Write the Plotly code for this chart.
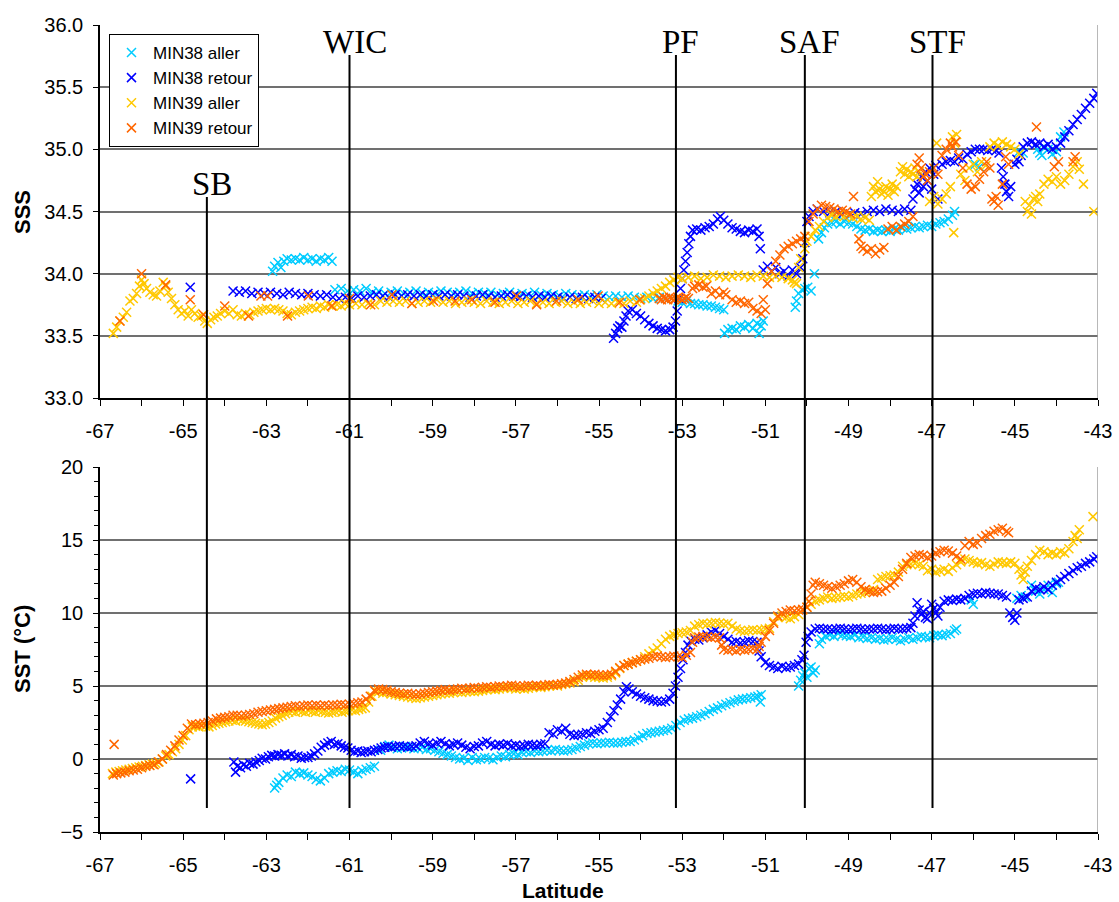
import plotly.graph_objects as go

# ---------------- DATA ----------------
series_names = ["MIN38 aller", "MIN38 retour", "MIN39 aller", "MIN39 retour"]
series_colors = ["#00CCFF", "#0000FF", "#FFC800", "#FF6600"]

fronts = ["SB", "WIC", "PF", "SAF", "STF"]
front_lat = [-64.43, -61.0, -53.15, -50.05, -46.98]

xticks = [-67, -65, -63, -61, -59, -57, -55, -53, -51, -49, -47, -45, -43]

# MIN38 aller - SSS
m38a_sss_lat = [-62.85, -62.8, -62.72, -62.65, -62.58, -62.5, -62.4, -62.3, -62.2, -62.1, -62.0, -61.9, -61.8, -61.7, -61.6, -61.5, -61.42,
                -61.35, -61.2, -61.05, -60.9, -60.75, -60.6, -60.45, -60.3, -60.15, -60.0, -59.85, -59.7, -59.55, -59.4, -59.25, -59.1, -58.95, -58.8,
                -58.65, -58.5, -58.35, -58.2, -58.05, -57.9, -57.75, -57.6, -57.45, -57.3, -57.15, -57.0, -56.85, -56.7, -56.55, -56.4, -56.25, -56.1,
                -55.95, -55.8, -55.65, -55.5, -55.35, -55.2, -55.05, -54.9, -54.75, -54.6, -54.45, -54.3, -54.15, -54.0, -53.85, -53.7, -53.55, -53.4, -53.25,
                -53.1, -53.0, -52.9, -52.8, -52.7, -52.6, -52.5, -52.4, -52.3, -52.2, -52.1, -52.0,
                -51.98, -51.9, -51.8, -51.7, -51.6, -51.5, -51.4, -51.3, -51.2, -51.15, -51.1, -51.05,
                -50.28, -50.25, -50.2, -50.12, -50.05, -49.98, -49.9, -49.82,
                -49.72, -49.65, -49.58, -49.5, -49.4, -49.3, -49.2, -49.1, -49.0, -48.9, -48.8, -48.7, -48.6, -48.5, -48.4, -48.3, -48.2, -48.1, -48.0,
                -47.9, -47.8, -47.7, -47.6, -47.5, -47.4, -47.3, -47.2, -47.1, -47.0, -46.9, -46.8, -46.7, -46.6, -46.5, -46.45,
                -45.95, -45.85, -44.9, -44.8, -44.45, -44.4, -44.35, -44.3, -44.2, -44.1, -44.0, -43.9, -43.82]
m38a_sss = [34.02, 34.06, 34.09, 34.05, 34.10, 34.12, 34.11, 34.12, 34.11, 34.13, 34.11, 34.12, 34.10, 34.12, 34.11, 34.13, 34.10,
            33.87, 33.88, 33.86, 33.87, 33.86, 33.88, 33.85, 33.86, 33.84, 33.85, 33.86, 33.84, 33.85, 33.86, 33.84, 33.85, 33.84, 33.86,
            33.85, 33.84, 33.85, 33.86, 33.84, 33.85, 33.84, 33.85, 33.83, 33.84, 33.85, 33.83, 33.84, 33.83, 33.85, 33.83, 33.84, 33.83,
            33.82, 33.84, 33.83, 33.82, 33.83, 33.82, 33.83, 33.82, 33.81, 33.82, 33.81, 33.82, 33.81, 33.80, 33.81, 33.80, 33.81, 33.80, 33.80,
            33.78, 33.77, 33.78, 33.76, 33.76, 33.75, 33.75, 33.74, 33.74, 33.73, 33.72, 33.71,
            33.52, 33.55, 33.56, 33.55, 33.58, 33.57, 33.59, 33.56, 33.60, 33.52, 33.58, 33.62,
            33.73, 33.78, 33.84, 33.87, 33.88, 33.89, 33.86, 34.00,
            34.28, 34.33, 34.37, 34.40, 34.41, 34.42, 34.40, 34.42, 34.41, 34.40, 34.38, 34.36, 34.35, 34.36, 34.34, 34.35, 34.34, 34.35, 34.34,
            34.36, 34.35, 34.37, 34.36, 34.37, 34.38, 34.37, 34.38, 34.39, 34.38, 34.40, 34.41, 34.42, 34.44, 34.47, 34.50,
            34.88, 34.86, 34.98, 34.97, 35.00, 34.97, 34.95, 35.02, 35.00, 34.96, 34.98, 35.10, 35.14]

# MIN38 retour - SSS
m38r_sss_lat = [-64.83,
                -63.8, -63.65, -63.5, -63.35, -63.2, -63.05, -62.9, -62.75, -62.6, -62.45, -62.3, -62.15, -62.0, -61.85, -61.7, -61.55, -61.4,
                -61.25, -61.1, -60.95, -60.8, -60.65, -60.5, -60.35, -60.2, -60.05, -59.9, -59.75, -59.6, -59.45, -59.3, -59.15, -59.0, -58.85,
                -58.7, -58.55, -58.4, -58.25, -58.1, -57.95, -57.8, -57.65, -57.5, -57.35, -57.2, -57.05, -56.9, -56.75, -56.6, -56.45, -56.3,
                -56.15, -56.0, -55.85, -55.7, -55.55, -55.4, -55.25, -55.1, -54.95,
                -54.65, -54.6, -54.55, -54.5, -54.45, -54.4, -54.35, -54.3, -54.2, -54.1, -54.0, -53.9, -53.8, -53.7, -53.6, -53.5, -53.4, -53.3,
                -53.22, -53.16, -53.12, -53.08, -53.04, -53.0, -52.96, -52.92, -52.88, -52.84, -52.8, -52.75, -52.65, -52.55, -52.45, -52.35,
                -52.25, -52.15, -52.08, -52.0, -51.9, -51.8, -51.7, -51.6, -51.5, -51.4, -51.3, -51.2, -51.15, -51.12, -51.05, -50.95, -50.85,
                -50.75, -50.65, -50.55, -50.45, -50.35, -50.25, -50.15, -50.1, -50.05, -50.0, -49.95, -49.85, -49.75,
                -49.6, -49.45, -49.3, -49.15, -49.0, -48.85, -48.7, -48.55, -48.4, -48.25, -48.1, -47.95, -47.8, -47.65, -47.5,
                -47.45, -47.4, -47.35, -47.3, -47.25, -47.2, -47.15, -47.1, -47.05, -47.0, -46.95, -46.9, -46.85,
                -46.75, -46.65, -46.55, -46.45, -46.35, -46.25, -46.15, -46.05, -45.95, -45.85, -45.75, -45.65, -45.55, -45.45, -45.38,
                -45.32, -45.28, -45.24, -45.2, -45.15, -45.1, -45.0, -44.95, -44.9, -44.85, -44.8, -44.7, -44.6, -44.5, -44.4, -44.3,
                -44.2, -44.1, -44.0, -43.9, -43.8, -43.7, -43.6, -43.5, -43.4, -43.3, -43.2, -43.1, -43.03]
m38r_sss = [33.89,
            33.86, 33.85, 33.86, 33.84, 33.85, 33.84, 33.85, 33.84, 33.83, 33.85, 33.84, 33.83, 33.84, 33.83, 33.82, 33.83, 33.81,
            33.80, 33.81, 33.80, 33.82, 33.81, 33.82, 33.83, 33.82, 33.81, 33.83, 33.82, 33.83, 33.82, 33.83, 33.82, 33.83, 33.82,
            33.83, 33.82, 33.83, 33.82, 33.81, 33.82, 33.83, 33.82, 33.81, 33.82, 33.83, 33.82, 33.81, 33.82, 33.81, 33.82, 33.81,
            33.82, 33.81, 33.80, 33.81, 33.80, 33.81, 33.80, 33.81, 33.80,
            33.48, 33.52, 33.56, 33.58, 33.57, 33.62, 33.66, 33.70, 33.71, 33.68, 33.66, 33.63, 33.60, 33.58, 33.56, 33.55, 33.54, 33.55,
            33.57, 33.62, 33.70, 33.80, 33.88, 33.96, 34.03, 34.10, 34.17, 34.24, 34.30, 34.35, 34.36, 34.35, 34.37, 34.38,
            34.40, 34.44, 34.46, 34.43, 34.40, 34.37, 34.36, 34.34, 34.33, 34.35, 34.34, 34.36, 34.30, 34.20, 34.03, 34.06, 34.02,
            34.05, 34.00, 34.02, 33.98, 34.03, 34.00, 34.05, 34.12, 34.25, 34.42, 34.46, 34.50, 34.52,
            34.50, 34.49, 34.50, 34.48, 34.47, 34.49, 34.48, 34.50, 34.51, 34.50, 34.52, 34.51, 34.50, 34.52, 34.51,
            34.60, 34.68, 34.72, 34.65, 34.78, 34.70, 34.82, 34.75, 34.85, 34.68, 34.80, 34.87, 34.60,
            34.88, 34.90, 34.91, 34.90, 34.93, 34.92, 34.96, 34.98, 35.00, 35.00, 35.00, 34.99, 35.00, 34.99, 34.97,
            34.85, 34.78, 34.72, 34.66, 34.62, 34.70, 34.88, 34.92, 34.90, 34.95, 35.02, 35.05, 35.06, 35.04, 35.05, 35.02,
            35.04, 35.00, 35.02, 35.05, 35.10, 35.15, 35.20, 35.24, 35.28, 35.33, 35.37, 35.41, 35.45]

# MIN39 aller - SSS
m39a_sss_lat = [-66.68, -66.6, -66.52, -66.44, -66.36, -66.28, -66.2, -66.12, -66.05, -66.0, -65.94, -65.88, -65.8, -65.72, -65.64, -65.56,
                -65.48, -65.42, -65.36, -65.28, -65.2, -65.12, -65.04, -64.96, -64.88, -64.8, -64.72, -64.64, -64.56, -64.48, -64.42, -64.34,
                -64.26, -64.18, -64.1, -64.0, -63.9, -63.8, -63.7, -63.6, -63.5, -63.4, -63.3, -63.2, -63.1, -63.0, -62.9, -62.8, -62.7, -62.6,
                -62.5, -62.4, -62.3, -62.2, -62.1, -62.0, -61.9, -61.8, -61.7, -61.6, -61.5, -61.4, -61.3, -61.2, -61.1, -61.0, -60.85, -60.7,
                -60.55, -60.4, -60.25, -60.1, -59.95, -59.8, -59.65, -59.5, -59.35, -59.2, -59.05, -58.9, -58.75, -58.6, -58.45, -58.3, -58.15,
                -58.0, -57.85, -57.7, -57.55, -57.4, -57.25, -57.1, -56.95, -56.8, -56.65, -56.5, -56.35, -56.2, -56.05, -55.9, -55.75, -55.6,
                -55.45, -55.3, -55.15, -55.0, -54.85, -54.7, -54.55, -54.4, -54.25, -54.1,
                -54.0, -53.9, -53.8, -53.7, -53.6, -53.5, -53.4, -53.3, -53.2, -53.1,
                -53.0, -52.85, -52.7, -52.55, -52.4, -52.25, -52.1, -51.95, -51.8, -51.65, -51.5, -51.35, -51.2, -51.05, -50.9, -50.75, -50.6, -50.45,
                -50.35, -50.3, -50.25, -50.2, -50.15, -50.05, -50.0, -49.9, -49.8, -49.7, -49.6, -49.5, -49.4, -49.3, -49.2, -49.1, -49.0, -48.9,
                -48.8, -48.7, -48.6, -48.5,
                -48.45, -48.4, -48.35, -48.3, -48.25, -48.2, -48.15, -48.1, -48.05, -48.0, -47.95, -47.9, -47.85,
                -47.75, -47.7, -47.65, -47.6, -47.55, -47.5, -47.45, -47.4, -47.35, -47.3,
                -47.05, -46.95, -46.85, -46.75, -46.65, -46.55, -46.88, -46.5, -46.45, -46.4, -46.47,
                -46.3, -46.2, -46.1, -46.0, -45.9, -45.8, -45.7, -45.6, -45.5, -45.4, -45.3, -45.2, -45.1, -45.0, -44.9,
                -44.75, -44.7, -44.65, -44.6, -44.55, -44.5, -44.45, -44.4, -44.3, -44.2, -44.1, -44.0, -43.9, -43.8, -43.7, -43.6,
                -43.5, -43.45, -43.35, -43.1]
m39a_sss = [33.52, 33.57, 33.62, 33.65, 33.69, 33.78, 33.80, 33.84, 33.90, 33.95, 33.92, 33.88, 33.85, 33.83, 33.82, 33.86,
            33.93, 33.90, 33.85, 33.80, 33.75, 33.71, 33.68, 33.70, 33.66, 33.71, 33.68, 33.65, 33.66, 33.62, 33.60, 33.63,
            33.65, 33.66, 33.68, 33.70, 33.68, 33.71, 33.67, 33.66, 33.68, 33.67, 33.69, 33.70, 33.71, 33.72, 33.71, 33.72, 33.71, 33.70,
            33.68, 33.67, 33.69, 33.70, 33.71, 33.72, 33.73, 33.72, 33.74, 33.73, 33.75, 33.74, 33.75, 33.74, 33.76, 33.75, 33.76, 33.75,
            33.76, 33.75, 33.78, 33.77, 33.78, 33.77, 33.78, 33.76, 33.77, 33.78, 33.77, 33.79, 33.77, 33.78, 33.76, 33.77, 33.78,
            33.77, 33.76, 33.78, 33.77, 33.76, 33.77, 33.78, 33.76, 33.77, 33.78, 33.76, 33.77, 33.76, 33.77, 33.78, 33.76, 33.77,
            33.76, 33.77, 33.78, 33.76, 33.77, 33.76, 33.77, 33.76, 33.78, 33.77,
            33.79, 33.80, 33.82, 33.84, 33.86, 33.88, 33.90, 33.93, 33.95, 33.97,
            33.96, 33.97, 33.98, 33.96, 33.97, 33.99, 33.98, 33.97, 33.98, 33.99, 33.98, 33.97, 33.99, 33.98, 33.97, 33.98, 33.97, 33.96,
            33.95, 33.93, 33.92, 34.05, 34.12, 34.20, 34.26, 34.30, 34.35, 34.38, 34.42, 34.45, 34.47, 34.46, 34.48, 34.46, 34.47, 34.45,
            34.46, 34.44, 34.45, 34.43,
            34.62, 34.70, 34.66, 34.74, 34.68, 34.64, 34.66, 34.70, 34.63, 34.68, 34.72, 34.66, 34.70,
            34.82, 34.86, 34.80, 34.84, 34.78, 34.82, 34.80, 34.85, 34.78, 34.82,
            34.58, 34.62, 34.56, 34.60, 34.64, 34.70, 35.05, 35.10, 35.05, 35.12, 34.33,
            34.80, 34.75, 34.85, 34.88, 34.82, 34.90, 34.87, 35.02, 35.05, 35.03, 35.06, 35.04, 35.02, 35.00, 34.96,
            34.58, 34.50, 34.55, 34.48, 34.60, 34.62, 34.58, 34.64, 34.72, 34.76, 34.74, 34.78, 34.72, 34.75, 34.80, 34.86,
            34.90, 34.84, 34.72, 34.50]

# MIN39 retour - SSS
m39r_sss_lat = [-66.52, -66.0, -65.42, -64.83, -64.51, -64.0, -63.43, -63.13, -62.97, -62.49, -61.99, -61.43, -61.0, -60.49, -59.98,
                -59.5, -58.98, -58.46, -58.06, -57.5, -56.98, -56.5, -56.02, -55.5, -55.02, -54.5, -54.02,
                -53.55, -53.5, -53.45, -53.4, -53.35, -53.3, -53.25, -53.2, -53.15, -53.1, -53.05, -53.0, -52.95, -52.9, -52.85,
                -52.75, -52.7, -52.6, -52.5, -52.42, -52.3, -52.2, -52.1, -52.0, -51.95, -51.8, -51.7, -51.6, -51.5, -51.4, -51.3,
                -51.2, -51.1, -51.0, -51.05, -50.95, -50.85, -50.75, -50.65, -50.55, -50.45, -50.35, -50.25, -50.15, -50.05,
                -49.95, -49.85, -49.75, -49.65, -49.55, -49.45, -49.35, -49.25, -49.15, -49.05, -48.95, -48.88,
                -48.75, -48.7, -48.65, -48.55, -48.45, -48.35, -48.25, -48.15, -48.05, -47.95, -47.85, -47.75, -47.65, -47.55, -47.45,
                -47.35, -47.3, -47.25, -47.2, -47.15, -47.1, -47.05, -46.95, -46.85, -46.75, -46.65, -46.55, -46.5, -46.42,
                -46.35, -46.25, -46.15, -46.05, -45.95, -45.85, -45.75, -45.68, -45.6, -45.55, -45.5, -45.45, -45.4, -45.3,
                -45.22, -45.15, -44.48, -44.05, -43.95, -43.6, -43.55]
m39r_sss = [33.62, 34.00, 33.91, 33.79, 33.67, 33.74, 33.66, 33.82, 33.82, 33.66, 33.82, 33.74, 33.80, 33.75, 33.83,
            33.76, 33.78, 33.78, 33.79, 33.77, 33.82, 33.75, 33.78, 33.79, 33.82, 33.77, 33.79,
            33.80, 33.79, 33.81, 33.80, 33.79, 33.81, 33.80, 33.79, 33.80, 33.81, 33.80, 33.79, 33.80, 33.81, 33.80,
            33.88, 33.90, 33.91, 33.89, 33.90, 33.84, 33.86, 33.83, 33.85, 33.83, 33.79, 33.77, 33.78, 33.76, 33.77, 33.72,
            33.70, 33.68, 33.71, 33.79, 33.92, 34.02, 34.10, 34.15, 34.20, 34.22, 34.24, 34.26, 34.28, 34.30,
            34.42, 34.48, 34.52, 34.55, 34.54, 34.53, 34.52, 34.50, 34.51, 34.50, 34.48, 34.62,
            34.28, 34.22, 34.20, 34.18, 34.20, 34.16, 34.19, 34.21, 34.36, 34.38, 34.35, 34.38, 34.40, 34.42, 34.46,
            34.88, 34.93, 34.85, 34.78, 34.80, 34.75, 34.82, 34.85, 34.80, 34.95, 35.00, 35.05, 35.02, 35.06,
            34.95, 34.85, 34.72, 34.68, 34.70, 34.76, 34.82, 34.90, 34.85, 34.60, 34.58, 34.62, 34.55, 34.72,
            34.94, 34.88, 35.18, 34.86, 34.90, 34.90, 34.94]

# MIN38 aller - SST
m38a_sst_lat = [-62.8, -62.75, -62.7, -62.6, -62.5, -62.4, -62.3, -62.2, -62.1, -62.0, -61.9, -61.8, -61.7, -61.6, -61.5, -61.4, -61.3,
                -61.2, -61.1, -61.0, -60.9, -60.8, -60.7, -60.6, -60.5, -60.4,
                -60.25, -60.15, -60.05, -59.95, -59.85, -59.75, -59.65, -59.55, -59.45, -59.35, -59.25, -59.15, -59.05, -58.95, -58.85,
                -58.75, -58.65, -58.55, -58.45, -58.35, -58.25, -58.15, -58.05, -57.95, -57.85, -57.75, -57.65, -57.55, -57.45, -57.35,
                -57.25, -57.15, -57.05, -56.95, -56.85, -56.75, -56.65, -56.55, -56.45, -56.35, -56.25, -56.15, -56.05, -55.95, -55.85,
                -55.75, -55.65, -55.55, -55.45, -55.35, -55.25, -55.15, -55.05, -54.95, -54.85, -54.75, -54.65, -54.55, -54.45, -54.35,
                -54.25, -54.15, -54.05, -53.95, -53.85, -53.75, -53.65, -53.55, -53.45, -53.35, -53.25, -53.15, -53.05, -52.95, -52.85,
                -52.75, -52.65, -52.55, -52.45, -52.35, -52.25, -52.15, -52.05, -51.95, -51.85, -51.75, -51.65, -51.55, -51.45, -51.35,
                -51.25, -51.18, -51.12, -51.1,
                -50.2, -50.15, -50.1, -50.05, -50.0, -49.95, -49.9, -49.85, -49.8,
                -49.7, -49.65, -49.55, -49.45, -49.35, -49.25, -49.15, -49.05, -48.95, -48.85, -48.75, -48.65, -48.55, -48.45, -48.35,
                -48.25, -48.15, -48.05, -47.95, -47.85, -47.75, -47.65, -47.55, -47.45, -47.35, -47.25, -47.15, -47.05, -46.95, -46.85,
                -46.75, -46.65, -46.55, -46.45, -46.4,
                -46.05, -46.0, -44.95, -44.85, -44.75, -44.6, -44.5, -44.4, -44.3, -44.2, -44.1, -44.0, -43.95]
m38a_sst = [-1.98, -1.8, -1.6, -1.3, -1.1, -1.2, -0.9, -1.0, -0.95, -1.1, -1.2, -1.4, -1.5, -1.3, -1.0, -0.9, -0.8,
            -0.85, -0.7, -0.75, -0.9, -1.0, -0.8, -0.7, -0.6, -0.5,
            0.6, 0.85, 0.95, 0.8, 0.7, 0.75, 0.85, 0.8, 0.7, 0.75, 0.8, 0.65, 0.7, 0.6, 0.5,
            0.4, 0.3, 0.2, 0.1, 0.0, 0.05, -0.1, 0.1, -0.05, 0.0, 0.1, 0.05, -0.05, 0.1, 0.2,
            0.15, 0.3, 0.35, 0.3, 0.45, 0.5, 0.45, 0.55, 0.5, 0.55, 0.6, 0.55, 0.65, 0.6, 0.55,
            0.6, 0.65, 0.75, 0.85, 0.95, 1.05, 1.1, 1.05, 1.1, 1.1, 1.15, 1.1, 1.1, 1.15, 1.2,
            1.2, 1.3, 1.45, 1.6, 1.75, 1.8, 1.85, 1.9, 1.95, 2.0, 2.1, 2.3, 2.5, 2.65, 2.75,
            2.8, 2.9, 3.0, 3.1, 3.25, 3.4, 3.5, 3.65, 3.75, 3.85, 3.95, 4.05, 4.1, 4.15, 4.2,
            4.25, 4.3, 3.9, 4.4,
            5.0, 5.4, 5.7, 5.9, 5.6, 6.2, 6.3, 5.9, 6.1,
            7.9, 8.2, 8.4, 8.5, 8.4, 8.6, 8.5, 8.45, 8.4, 8.5, 8.3, 8.35, 8.25, 8.3, 8.2,
            8.25, 8.15, 8.2, 8.3, 8.2, 8.1, 8.2, 8.3, 8.2, 8.3, 8.4, 8.35, 8.3, 8.45, 8.5,
            8.45, 8.55, 8.6, 8.8, 8.9,
            10.9, 10.6, 11.0, 11.2, 11.1, 11.9, 11.5, 11.3, 11.6, 11.9, 11.4, 12.0, 12.1]

# MIN38 retour - SST
m38r_sst_lat = [-64.82,
                -63.78, -63.74, -63.7, -63.62, -63.55, -63.48, -63.4, -63.32, -63.25, -63.17, -63.1, -63.02, -62.95, -62.87, -62.8,
                -62.72, -62.64, -62.56, -62.48, -62.4, -62.32, -62.24, -62.16, -62.08, -62.0, -61.92, -61.84, -61.76, -61.68, -61.6,
                -61.52, -61.44, -61.36, -61.28, -61.2, -61.12, -61.04, -60.96, -60.88, -60.8, -60.72, -60.64, -60.56, -60.48, -60.4,
                -60.32, -60.24, -60.16, -60.08, -60.0, -59.9, -59.8, -59.7, -59.6, -59.5, -59.4, -59.3, -59.2, -59.1, -59.0, -58.9,
                -58.8, -58.7, -58.6, -58.5, -58.4, -58.3, -58.2, -58.1, -58.0, -57.9, -57.8, -57.7, -57.6, -57.5, -57.4, -57.3, -57.2,
                -57.1, -57.0, -56.9, -56.8, -56.7, -56.6, -56.5, -56.4, -56.3,
                -56.2, -56.1, -56.0, -55.9, -55.8, -55.7, -55.6, -55.5, -55.4, -55.3, -55.2, -55.1, -55.0, -54.9, -54.8, -54.72, -54.64,
                -54.56, -54.48, -54.4, -54.34, -54.28, -54.2, -54.1, -54.0, -53.9, -53.8, -53.7, -53.6, -53.5, -53.4, -53.3, -53.22,
                -53.16, -53.1, -53.04, -52.98, -52.92, -52.86, -52.8, -52.7, -52.6, -52.5, -52.4, -52.3, -52.2, -52.1, -52.0, -51.9,
                -51.8, -51.7, -51.6, -51.5, -51.4, -51.3, -51.2, -51.15, -51.1, -51.0, -50.9, -50.8, -50.7, -50.6, -50.5, -50.4, -50.3,
                -50.2, -50.12, -50.07, -50.02, -49.97, -49.9, -49.8, -49.7, -49.6, -49.5, -49.4, -49.3, -49.2, -49.1, -49.0, -48.9, -48.8,
                -48.7, -48.6, -48.5, -48.4, -48.3, -48.2, -48.1, -48.0, -47.9, -47.8, -47.7, -47.6, -47.5, -47.45, -47.4, -47.35, -47.3,
                -47.25, -47.2, -47.15, -47.1, -47.05, -47.0, -46.95, -46.9, -46.85, -46.8, -46.7, -46.6, -46.5, -46.4, -46.3, -46.2,
                -46.1, -46.0, -45.9, -45.8, -45.7, -45.6, -45.5, -45.4, -45.3, -45.2, -45.12, -45.05, -45.0, -44.95, -44.9, -44.8,
                -44.7, -44.6, -44.5, -44.4, -44.3, -44.2, -44.1, -44.0, -43.9, -43.8, -43.7, -43.6, -43.5, -43.4, -43.3, -43.2, -43.1,
                -43.03]
m38r_sst = [-1.36,
            -0.2, -0.9, -0.5, -0.6, -0.4, -0.5, -0.3, -0.35, -0.2, -0.1, 0.05, 0.0, 0.15, 0.25, 0.2,
            0.3, 0.25, 0.35, 0.2, 0.3, 0.15, 0.2, 0.05, 0.1, 0.1, 0.2, 0.35, 0.55, 0.8, 0.95,
            1.1, 1.2, 1.0, 1.05, 0.9, 0.8, 0.75, 0.6, 0.5, 0.55, 0.45, 0.5, 0.55, 0.5, 0.6,
            0.65, 0.75, 0.8, 0.85, 0.8, 0.85, 0.9, 0.85, 0.8, 0.85, 0.9, 1.1, 1.2, 1.05, 0.95, 1.1,
            1.2, 1.05, 0.9, 1.0, 1.1, 0.95, 0.8, 0.7, 0.85, 0.9, 1.1, 1.2, 1.0, 0.9, 1.0, 0.95, 1.05,
            0.9, 0.95, 0.85, 0.9, 1.0, 0.95, 0.9, 1.0, 1.05,
            1.8, 1.7, 2.0, 1.9, 2.1, 1.7, 1.6, 1.65, 1.7, 1.8, 1.75, 1.9, 2.0, 2.1, 2.5, 2.9, 3.3,
            3.7, 4.1, 4.6, 4.95, 4.8, 4.6, 4.45, 4.3, 4.2, 4.1, 4.0, 3.95, 3.9, 3.95, 4.1, 4.5,
            5.0, 5.6, 6.2, 6.8, 7.3, 7.8, 8.1, 8.2, 8.15, 8.3, 8.5, 8.7, 8.8, 8.6, 8.4, 8.2,
            8.0, 8.05, 7.95, 8.0, 8.1, 8.05, 8.0, 7.4, 7.0, 6.6, 6.4, 6.3, 6.2, 6.35, 6.25, 6.3, 6.4,
            6.5, 6.8, 7.1, 8.0, 8.4, 8.7, 8.9, 8.95, 8.9, 8.9, 8.85, 8.9, 8.95, 8.9, 8.85, 8.9, 8.95,
            8.9, 8.85, 8.9, 8.9, 8.95, 8.9, 8.85, 8.9, 8.95, 8.9, 8.9, 8.95, 9.0, 9.3, 9.8, 10.7, 10.2,
            9.9, 10.1, 9.7, 9.6, 10.0, 10.6, 10.3, 10.0, 9.8, 10.4, 10.8, 10.9, 10.85, 10.95, 10.9, 11.0,
            11.2, 11.3, 11.35, 11.3, 11.4, 11.35, 11.3, 11.3, 11.2, 11.1, 10.0, 9.7, 9.5, 10.0, 10.9, 11.0,
            11.1, 11.5, 11.7, 11.6, 11.8, 11.6, 11.9, 12.1, 12.3, 12.5, 12.7, 12.9, 13.1, 13.2, 13.4, 13.5, 13.7,
            13.85]

# MIN39 aller - SST
m39a_sst_lat = [-66.7, -66.62, -66.54, -66.46, -66.38, -66.3, -66.22, -66.14, -66.06, -65.98, -65.9, -65.82, -65.74, -65.66, -65.58,
                -65.5, -65.42, -65.34, -65.26, -65.18, -65.1, -65.02, -64.94, -64.86, -64.78, -64.7, -64.62, -64.54, -64.46, -64.38,
                -64.3, -64.22, -64.14, -64.06, -63.98, -63.9, -63.82, -63.74, -63.66, -63.58, -63.5, -63.42, -63.34, -63.26, -63.18,
                -63.1, -63.02, -62.94, -62.86, -62.78, -62.7, -62.62, -62.54, -62.46, -62.38, -62.3, -62.22, -62.14, -62.06, -61.98,
                -61.9, -61.82, -61.74, -61.66, -61.58, -61.5, -61.42, -61.34, -61.26, -61.18, -61.1, -61.02, -60.94, -60.86, -60.78,
                -60.7, -60.62, -60.54, -60.46, -60.38, -60.3, -60.2, -60.1, -60.0, -59.9, -59.8, -59.7, -59.6, -59.5, -59.4, -59.3,
                -59.2, -59.1, -59.0, -58.9, -58.8, -58.7, -58.6, -58.5, -58.4, -58.3, -58.2, -58.1, -58.0, -57.9, -57.8, -57.7, -57.6,
                -57.5, -57.4, -57.3, -57.2, -57.1, -57.0, -56.9, -56.8, -56.7, -56.6, -56.5, -56.4, -56.3, -56.2, -56.1, -56.0, -55.9,
                -55.8, -55.7, -55.6, -55.5, -55.4, -55.3, -55.2, -55.1, -55.0, -54.9, -54.8, -54.7, -54.6, -54.5, -54.4, -54.3, -54.2,
                -54.1, -54.0, -53.9, -53.8, -53.7, -53.6, -53.5, -53.4, -53.3, -53.2, -53.1, -53.0, -52.9, -52.8, -52.7, -52.6, -52.5,
                -52.4, -52.3, -52.2, -52.1, -52.0, -51.9, -51.8, -51.7, -51.6, -51.5, -51.4, -51.3, -51.2, -51.1, -51.0, -50.9, -50.8,
                -50.7, -50.6, -50.5, -50.4, -50.3, -50.2, -50.1, -50.0, -49.9, -49.8, -49.7, -49.6, -49.5, -49.4, -49.3, -49.2, -49.1,
                -49.0, -48.9, -48.8, -48.7, -48.6, -48.5, -48.4, -48.3, -48.2, -48.1, -48.0, -47.9, -47.8, -47.7, -47.6, -47.5, -47.4,
                -47.3, -47.2, -47.1, -47.0, -46.9, -46.8, -46.7, -46.6, -46.5, -46.4, -46.3, -46.2, -46.1, -46.0, -45.9, -45.8, -45.7,
                -45.6, -45.5, -45.4, -45.3, -45.2, -45.1, -45.0, -44.9, -44.85, -44.8, -44.75, -44.7, -44.6, -44.5, -44.4, -44.3, -44.2,
                -44.1, -44.0, -43.9, -43.8, -43.7, -43.6, -43.55, -43.5, -43.45, -43.12]
m39a_sst = [-1.0, -0.9, -0.85, -0.8, -0.75, -0.7, -0.65, -0.6, -0.55, -0.5, -0.45, -0.4, -0.35, -0.3, -0.2,
            0.0, 0.2, 0.3, 0.5, 0.7, 1.0, 1.3, 1.6, 2.0, 2.2, 2.25, 2.2, 2.3, 2.25, 2.2,
            2.3, 2.4, 2.45, 2.5, 2.55, 2.6, 2.65, 2.6, 2.7, 2.65, 2.6, 2.55, 2.5, 2.45, 2.4,
            2.35, 2.4, 2.5, 2.6, 2.8, 2.9, 3.0, 3.1, 3.2, 3.25, 3.2, 3.3, 3.25, 3.2, 3.3,
            3.25, 3.2, 3.3, 3.25, 3.2, 3.15, 3.2, 3.25, 3.3, 3.2, 3.25, 3.3, 3.35, 3.3, 3.4,
            3.45, 3.5, 3.9, 4.3, 4.6, 4.6, 4.5, 4.55, 4.45, 4.4, 4.35, 4.3, 4.25, 4.2, 4.15, 4.2,
            4.25, 4.3, 4.35, 4.4, 4.45, 4.5, 4.5, 4.55, 4.6, 4.55, 4.6, 4.65, 4.6, 4.65, 4.7, 4.75, 4.8,
            4.75, 4.8, 4.85, 4.9, 4.85, 4.8, 4.85, 4.8, 4.85, 4.9, 4.95, 4.9, 4.95, 5.0, 5.05, 5.0, 5.1,
            5.15, 5.2, 5.3, 5.4, 5.6, 5.7, 5.65, 5.6, 5.6, 5.55, 5.6, 5.7, 5.9, 6.2, 6.4, 6.5, 6.6,
            6.7, 6.8, 7.0, 7.2, 7.4, 7.6, 7.9, 8.2, 8.4, 8.5, 8.6, 8.65, 8.7, 8.8, 9.1, 9.2, 9.3,
            9.25, 9.3, 9.35, 9.3, 9.25, 9.3, 9.1, 8.9, 8.8, 8.75, 8.8, 8.85, 8.8, 8.85, 8.9, 8.95, 9.4,
            9.7, 9.8, 9.7, 9.6, 9.75, 9.9, 10.2, 10.4, 10.6, 10.8, 10.9, 11.0, 11.1, 11.0, 11.05, 11.1, 11.15,
            11.1, 11.2, 11.3, 11.35, 11.4, 11.5, 11.6, 12.3, 12.4, 12.5, 12.55, 12.6, 12.8, 13.2, 13.3, 13.35, 13.4,
            13.3, 13.2, 12.9, 13.0, 12.8, 12.9, 13.0, 12.85, 13.1, 13.3, 13.5, 13.7, 13.6, 13.5, 13.4, 13.45, 13.3,
            13.2, 13.35, 13.5, 13.45, 13.4, 13.5, 13.4, 13.0, 12.6, 12.3, 12.8, 13.2, 13.6, 14.0, 14.3, 14.2, 14.0,
            14.1, 14.0, 14.2, 14.1, 14.4, 14.9, 15.3, 15.1, 15.7, 16.6]

# MIN39 retour - SST
m39r_sst_lat = [-66.66,
                -66.68, -66.6, -66.5, -66.4, -66.3, -66.2, -66.1, -66.0, -65.9, -65.8, -65.7, -65.6, -65.5, -65.4, -65.3, -65.2,
                -65.1, -65.0, -64.9, -64.8, -64.7, -64.6, -64.5, -64.4, -64.3, -64.2, -64.1, -64.0, -63.9, -63.8, -63.7, -63.6,
                -63.5, -63.4, -63.3, -63.2, -63.1, -63.0, -62.9, -62.8, -62.7, -62.6, -62.5, -62.4, -62.3, -62.2, -62.1, -62.0,
                -61.9, -61.8, -61.7, -61.6, -61.5, -61.4, -61.3, -61.2, -61.1, -61.0, -60.9, -60.8, -60.7, -60.6, -60.5, -60.4,
                -60.3, -60.2, -60.1, -60.0, -59.9, -59.8, -59.7, -59.6, -59.5, -59.4, -59.3, -59.2, -59.1, -59.0, -58.9, -58.8,
                -58.7, -58.6, -58.5, -58.4, -58.3, -58.2, -58.1, -58.0, -57.9, -57.8, -57.7, -57.6, -57.5, -57.4, -57.3, -57.2,
                -57.1, -57.0, -56.9, -56.8, -56.7, -56.6, -56.5, -56.4, -56.3, -56.2, -56.1, -56.0, -55.9, -55.8, -55.7, -55.6,
                -55.5, -55.4, -55.3, -55.2, -55.1, -55.0, -54.9, -54.8, -54.7, -54.6, -54.5, -54.4, -54.3, -54.2, -54.1, -54.0,
                -53.9, -53.8, -53.7, -53.6, -53.5, -53.4, -53.3, -53.2, -53.1, -53.0, -52.9, -52.8, -52.75, -52.7, -52.6, -52.5,
                -52.4, -52.3, -52.2, -52.1, -52.05, -52.0, -51.9, -51.8, -51.7, -51.6, -51.5, -51.4, -51.3, -51.2, -51.15, -51.1,
                -51.0, -50.9, -50.8, -50.7, -50.6, -50.5, -50.4, -50.3, -50.2, -50.1, -50.0, -49.95, -49.9, -49.85, -49.8, -49.7,
                -49.6, -49.5, -49.4, -49.3, -49.2, -49.1, -49.0, -48.9, -48.8, -48.7, -48.6, -48.5, -48.4, -48.3, -48.2, -48.1,
                -48.0, -47.9, -47.8, -47.7, -47.6, -47.5, -47.4, -47.3, -47.2, -47.1, -47.0, -46.9, -46.8, -46.7, -46.6, -46.5,
                -46.4, -46.3, -46.2, -46.1, -46.0, -45.9, -45.8, -45.7, -45.6, -45.5, -45.4, -45.3, -45.2, -45.15]
m39r_sst = [1.0,
            -1.1, -1.0, -0.95, -0.9, -0.8, -0.75, -0.7, -0.6, -0.5, -0.45, -0.4, -0.2, 0.0, 0.3, 0.6, 0.9,
            1.3, 1.6, 2.1, 2.4, 2.35, 2.4, 2.45, 2.5, 2.6, 2.75, 2.8, 2.85, 2.9, 3.0, 3.0, 2.95,
            3.0, 3.05, 3.1, 3.2, 3.25, 3.3, 3.35, 3.4, 3.45, 3.5, 3.55, 3.6, 3.65, 3.6, 3.65, 3.7,
            3.65, 3.7, 3.65, 3.7, 3.65, 3.7, 3.7, 3.75, 3.7, 3.75, 3.8, 3.85, 3.9, 4.1, 4.3, 4.7,
            4.8, 4.75, 4.7, 4.6, 4.55, 4.5, 4.45, 4.5, 4.45, 4.4, 4.45, 4.5, 4.55, 4.6, 4.65, 4.7,
            4.75, 4.7, 4.75, 4.8, 4.85, 4.8, 4.85, 4.9, 4.85, 4.9, 4.95, 4.9, 4.95, 5.0, 4.95, 5.0,
            5.05, 5.0, 4.95, 5.0, 5.05, 5.0, 5.05, 5.0, 5.05, 5.1, 5.05, 5.1, 5.15, 5.2, 5.3, 5.45,
            5.6, 5.75, 5.8, 5.75, 5.8, 5.75, 5.7, 5.75, 5.8, 6.0, 6.25, 6.4, 6.5, 6.6, 6.7, 6.8,
            6.85, 6.9, 7.0, 7.05, 7.0, 6.95, 7.0, 7.05, 7.0, 6.95, 7.1, 7.3, 8.0, 8.3, 8.35, 8.4,
            8.35, 8.3, 8.35, 8.3, 7.8, 7.5, 7.45, 7.5, 7.4, 7.5, 7.45, 7.5, 7.55, 7.5, 7.7, 8.0,
            8.4, 8.8, 9.3, 9.8, 10.0, 10.1, 10.2, 10.15, 10.2, 10.25, 10.4, 10.8, 11.3, 11.9, 12.1, 12.0,
            11.9, 11.8, 11.7, 11.8, 11.9, 12.0, 12.2, 12.3, 12.1, 11.8, 11.6, 11.5, 11.4, 11.45, 11.5, 11.7,
            11.9, 12.1, 12.5, 13.0, 13.4, 13.8, 13.9, 14.0, 13.95, 13.8, 13.9, 14.1, 14.2, 14.3, 14.25, 14.1,
            13.9, 13.7, 14.6, 14.9, 14.7, 14.8, 15.1, 15.3, 15.4, 15.6, 15.7, 15.8, 15.6, 15.5]

sss_lats = [m38a_sss_lat, m38r_sss_lat, m39a_sss_lat, m39r_sss_lat]
sss_vals = [m38a_sss, m38r_sss, m39a_sss, m39r_sss]
sst_lats = [m38a_sst_lat, m38r_sst_lat, m39a_sst_lat, m39r_sst_lat]
sst_vals = [m38a_sst, m38r_sst, m39a_sst, m39r_sst]

# ---------------- FIGURE ----------------
# The page body margin is removed (post_script), so page pixels == figure pixels.
FIG_W, FIG_H = 1119, 902
PL, PR, PT, PB = 100, 1098, 25, 832          # plot area in page pixels
ML, MT = PL, PT
MR, MB = FIG_W - PR, FIG_H - PB
PW, PH = PR - PL, PB - PT


def px_x(px):
    return (px - PL) / PW


def px_y(py):
    return (PB - py) / PH


fig = go.Figure()

for i, name in enumerate(series_names):
    c = series_colors[i]
    mk = dict(symbol="x-thin", size=9, color=c, line=dict(width=1.5, color=c))
    fig.add_trace(go.Scatter(x=sss_lats[i], y=sss_vals[i], mode="markers", name=name,
                             legendgroup=name, marker=mk, xaxis="x", yaxis="y"))
    fig.add_trace(go.Scatter(x=sst_lats[i], y=sst_vals[i], mode="markers", name=name,
                             legendgroup=name, showlegend=False, marker=mk, xaxis="x2", yaxis="y2"))

axis_font = dict(family="Arial, Liberation Sans, sans-serif", size=20, color="black")

xcommon = dict(range=[-67, -43], tickmode="array", tickvals=xticks, ticktext=[str(v) for v in xticks],
               ticks="outside", ticklen=6, tickcolor="black", tickwidth=1,
               showline=True, linecolor="black", linewidth=1.5, showgrid=False, zeroline=False,
               minor=dict(dtick=1, tick0=-67, ticks="outside", ticklen=6, tickcolor="black", showgrid=False),
               tickfont=axis_font, ticklabelstandoff=8, automargin=False)

top_dom = [px_y(398), 1.0]
bot_dom = [0.0, px_y(467)]

fig.update_layout(
    width=FIG_W, height=FIG_H,
    margin=dict(l=ML, r=MR, t=MT, b=MB, pad=0, autoexpand=False),
    paper_bgcolor="white", plot_bgcolor="white",
    font=dict(family="Arial, Liberation Sans, sans-serif", color="black"),
    xaxis=dict(domain=[0, 1], anchor="y", **xcommon),
    xaxis2=dict(domain=[0, 1], anchor="y2", **xcommon),
    yaxis=dict(domain=top_dom, anchor="x", range=[33, 36], dtick=0.5, tick0=33, tickformat=".1f",
               ticks="outside", ticklen=5, tickcolor="black", showline=True, linecolor="black", linewidth=1.5,
               showgrid=True, gridcolor="#707070", gridwidth=1.5, zeroline=False, tickfont=axis_font,
               ticklabelstandoff=6, automargin=False),
    yaxis2=dict(domain=bot_dom, anchor="x2", range=[-5, 20], dtick=5, tick0=-5,
                ticks="outside", ticklen=5, tickcolor="black", showline=True, linecolor="black", linewidth=1.5,
                showgrid=True, gridcolor="#707070", gridwidth=1.5, zeroline=False, tickfont=axis_font,
                minor=dict(dtick=1, ticks="outside", ticklen=4, tickcolor="black", showgrid=False),
                ticklabelstandoff=6, automargin=False),
    legend=dict(x=px_x(109), y=px_y(34), xanchor="left", yanchor="top", bgcolor="white",
                bordercolor="black", borderwidth=1,
                font=dict(family="Arial, Liberation Sans, sans-serif", size=17, color="black"),
                tracegroupgap=0, itemwidth=33, entrywidth=135, entrywidthmode="pixels"),
    showlegend=True,
)

shapes = []
shapes.append(dict(type="line", xref="x", yref="y domain", x0=-43, x1=-43, y0=0, y1=1,
                   line=dict(color="#a0a0a0", width=1.5)))
shapes.append(dict(type="line", xref="x2", yref="y2 domain", x0=-43, x1=-43, y0=0, y1=1,
                   line=dict(color="#a0a0a0", width=1.5)))
line_tops = [px_y(197)] + [px_y(55)] * 4
line_bottom = px_y(808)
for lat, top in zip(front_lat, line_tops):
    shapes.append(dict(type="line", xref="x", yref="paper", x0=lat, x1=lat, y0=line_bottom, y1=top,
                       line=dict(color="black", width=2)))
fig.update_layout(shapes=shapes)

ann = []
label_y = [px_y(184)] + [px_y(42)] * 4
for name, lat, yy in zip(fronts, front_lat, label_y):
    ann.append(dict(text=name, x=lat, y=yy, xref="x", yref="paper", showarrow=False, xshift=5,
                    xanchor="center", yanchor="middle",
                    font=dict(family="Liberation Serif, Times New Roman, serif", size=33, color="black")))
ann.append(dict(text="<b>SSS</b>", x=px_x(22), y=px_y(212), xref="paper", yref="paper",
                showarrow=False, textangle=-90, xanchor="center", yanchor="middle",
                font=dict(family="Arial, Liberation Sans, sans-serif", size=22, color="black")))
ann.append(dict(text="<b>SST (°C)</b>", x=px_x(22), y=px_y(649), xref="paper", yref="paper",
                showarrow=False, textangle=-90, xanchor="center", yanchor="middle",
                font=dict(family="Arial, Liberation Sans, sans-serif", size=22, color="black")))
ann.append(dict(text="<b>Latitude</b>", x=px_x(563), y=px_y(890), xref="paper", yref="paper",
                showarrow=False, xanchor="center", yanchor="middle",
                font=dict(family="Arial, Liberation Sans, sans-serif", size=21, color="black")))
fig.update_layout(annotations=ann)

fig.write_html("out.html", config={"displayModeBar": False},
               post_script="document.body.style.margin='0';document.body.style.overflow='hidden';")
